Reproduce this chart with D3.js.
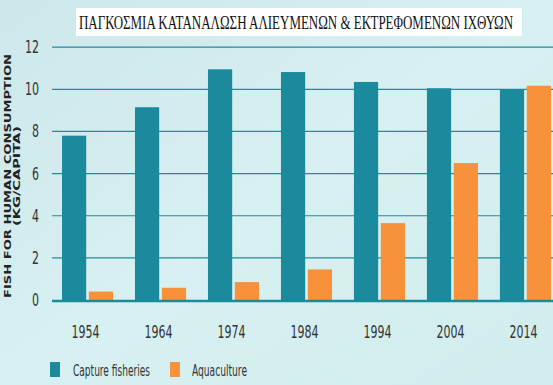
<!DOCTYPE html>
<html><head><meta charset="utf-8">
<script src="https://cdn.jsdelivr.net/npm/d3@7"></script>
<style>html,body{margin:0;padding:0;background:#d6eff0;}svg{display:block;}</style>
</head><body>
<svg id="c" width="553" height="385"></svg>
<script>
const years = ["1954","1964","1974","1984","1994","2004","2014"];
const capture = [7.8, 9.15, 10.95, 10.82, 10.35, 10.05, 10.0];
const aquaculture = [0.4, 0.58, 0.85, 1.45, 3.65, 6.5, 10.17];
const yTicks = [0, 2, 4, 6, 8, 10, 12];
const seriesNames = ["Capture fisheries", "Aquaculture"];
const colors = ["#1a8a9c", "#f7923a"];
const title = "ΠΑΓΚΟΣΜΙΑ ΚΑΤΑΝΑΛΩΣΗ ΑΛΙΕΥΜΕΝΩΝ & ΕΚΤΡΕΦΟΜΕΝΩΝ ΙΧΘΥΩΝ";
const yTitle1 = "FISH FOR HUMAN CONSUMPTION";
const yTitle2 = "(KG/CAPITA)";

const svg = d3.select("#c");
const defs = svg.append("defs");
const g = defs.append("linearGradient").attr("id","bg").attr("x1","0").attr("x2","1").attr("y1","0").attr("y2","1");
g.append("stop").attr("offset","0").attr("stop-color","#cde8ea");
g.append("stop").attr("offset","0.5").attr("stop-color","#d7f0f1");
g.append("stop").attr("offset","1").attr("stop-color","#d2eded");
svg.append("rect").attr("width",553).attr("height",385).attr("fill","url(#bg)");

const y = d3.scaleLinear().domain([0,12]).range([300,47.2]);
const x = d3.scaleBand().domain(years).range([52,561]).paddingInner(0.3).paddingOuter(0.137);
const xs = d3.scaleBand().domain([0,1]).range([0,x.bandwidth()]).paddingInner(0.1);

const condensed = "'Liberation Sans Narrow','DejaVu Sans Condensed','Roboto Condensed',sans-serif";

// gridlines
svg.append("g").selectAll("line").data(yTicks.filter(d=>d>0)).join("line")
  .attr("x1",52).attr("x2",553).attr("y1",d=>y(d)).attr("y2",d=>y(d))
  .attr("stroke","#228c98").attr("stroke-width",1.2);

// y tick labels
svg.append("g").selectAll("text").data(yTicks).join("text")
  .attr("x",39).attr("y",d=>y(d)+6).attr("text-anchor","end")
  .attr("font-family",condensed).attr("font-size",18).attr("fill","#333")
  .attr("textLength",d=>String(d).length*7).attr("lengthAdjust","spacingAndGlyphs")
  .text(d=>d);

// bars
const groups = svg.append("g").selectAll("g").data(years).join("g")
  .attr("transform",d=>`translate(${x(d)},0)`);
groups.selectAll("rect").data((d,i)=>[capture[i],aquaculture[i]]).join("rect")
  .attr("x",(d,j)=>xs(j)).attr("width",xs.bandwidth())
  .attr("y",d=>y(d)).attr("height",d=>y(0)-y(d))
  .attr("fill",(d,j)=>colors[j]);

// baseline
svg.append("line").attr("x1",52).attr("x2",553).attr("y1",y(0)+1).attr("y2",y(0)+1)
  .attr("stroke","#1a8a9c").attr("stroke-width",2.5);

// x labels
svg.append("g").selectAll("text").data(years).join("text")
  .attr("x",d=>x(d)+x.bandwidth()/2-2).attr("y",338).attr("text-anchor","middle")
  .attr("font-family",condensed).attr("font-size",18).attr("fill","#333")
  .attr("textLength",28).attr("lengthAdjust","spacingAndGlyphs")
  .text(d=>d);

// title
svg.append("rect").attr("x",76).attr("y",8).attr("width",446).attr("height",28).attr("fill","#ffffff");
svg.append("text").attr("transform","translate(79,28.5) scale(1,1.45)")
  .attr("font-family","'Liberation Serif','DejaVu Serif',serif").attr("font-size",12.5).attr("fill","#111")
  .attr("textLength",434).attr("lengthAdjust","spacingAndGlyphs").text(title);

// y axis title
svg.append("text").attr("transform","translate(11,176) rotate(-90)").attr("text-anchor","middle")
  .attr("font-family","'DejaVu Sans',sans-serif").attr("font-weight","bold").attr("font-size",9.5).attr("fill","#222")
  .attr("textLength",244).attr("lengthAdjust","spacingAndGlyphs").text(yTitle1);
svg.append("text").attr("transform","translate(20,176) rotate(-90)").attr("text-anchor","middle")
  .attr("font-family","'DejaVu Sans',sans-serif").attr("font-weight","bold").attr("font-size",9.5).attr("fill","#222")
  .attr("textLength",100).attr("lengthAdjust","spacingAndGlyphs").text(yTitle2);

// legend
const legX = [50, 170], legTextX = [73, 192], legW = [77, 55];
const leg = svg.append("g").selectAll("g").data(seriesNames).join("g");
leg.append("rect").attr("x",(d,i)=>legX[i]).attr("y",362).attr("width",10).attr("height",15).attr("fill",(d,i)=>colors[i]);
leg.append("text").attr("x",(d,i)=>legTextX[i]).attr("y",376)
  .attr("font-family",condensed).attr("font-size",16).attr("fill","#333")
  .attr("textLength",(d,i)=>legW[i]).attr("lengthAdjust","spacingAndGlyphs").text(d=>d);
</script>
</body></html>
